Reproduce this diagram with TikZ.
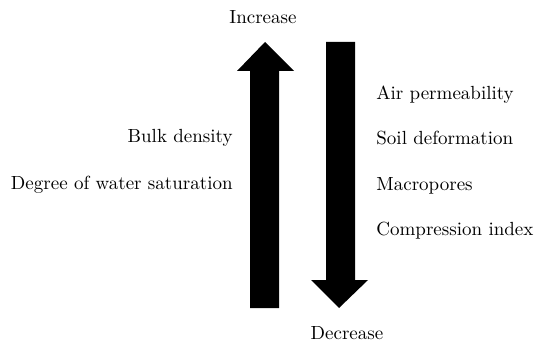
\documentclass[tikz,border=0pt]{standalone}
\usetikzlibrary{positioning}

\tikzset{
    label text/.style={font=\fontsize{9.5}{11}\selectfont, inner sep=0pt},
    big arrow/.style={fill=black, draw=none}
}

\begin{document}
\begin{tikzpicture}[x=0.5pt, y=-0.5pt]
    %frame of the picture
        \useasboundingbox (0,0) rectangle (550,352);

    %up arrow
        \coordinate (UpTip) at (265,42);
        \fill[big arrow] (250,308) -- (250,71) -- (237,71) -- (UpTip) -- (294,71) -- (279,71) -- (279,308) -- cycle;

    %down arrow
        \coordinate (DownTip) at (339,308);
        \fill[big arrow] (326,42) -- (326,280) -- (311,280) -- (DownTip) -- (368,280) -- (355,280) -- (355,42) -- cycle;

    %ends
        \node[label text] (inc) at (263,17) {Increase};
        \node[label text] (dec) at (347,333) {Decrease};

    %left labels
        \node[label text, anchor=east] (bulk) at (233,138) {Bulk density};
        \node[label text, anchor=east] (sat) at (233,185) {Degree of water saturation};

    %right labels
        \node[label text, anchor=west] (air) at (376,95) {Air permeability};
        \node[label text, anchor=west] (deform) at (376,138) {Soil deformation};
        \node[label text, anchor=west] (macro) at (376,186) {Macropores};
        \node[label text, anchor=west] (comp) at (376,231) {Compression index};

\end{tikzpicture}
\end{document}
